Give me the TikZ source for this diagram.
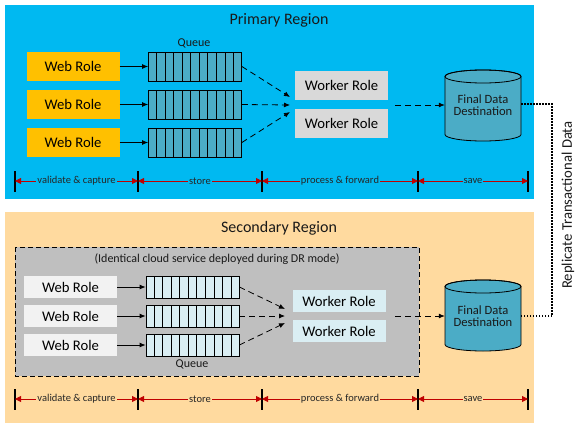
\documentclass[tikz,border=0pt]{standalone}
\usepackage{fontspec}
\setmainfont{Carlito}
\usetikzlibrary{arrows.meta,calc}
\definecolor{primbg}{HTML}{00B9F1}
\definecolor{secbg}{HTML}{FFDA9F}
\definecolor{webyel}{HTML}{FFC000}
\definecolor{qblue}{HTML}{4BACC6}
\definecolor{qlight}{HTML}{DAEEF3}
\definecolor{wgray}{HTML}{D9D9D9}
\definecolor{wlight}{HTML}{F2F2F2}
\definecolor{drgray}{HTML}{BFBFBF}
\definecolor{tlred}{HTML}{C00000}
\tikzset{
  fs/.style={font=\fontsize{#1}{#1}\selectfont},
  rolebox/.style={minimum width=93pt, inner sep=0pt, fs=14.67, text=black},
  qbox/.style={draw=black, line width=0.8pt, minimum width=93pt, inner sep=0pt},
  solidarr/.style={line width=0.8pt, -{Latex[length=6pt,width=5pt]}},
  dasharr/.style={line width=0.8pt, dash pattern=on 6pt off 4pt, -{Latex[length=6pt,width=5pt]}},
  tick/.style={line width=1.5pt, black},
  tlarr/.style={tlred, line width=0.8pt, {Triangle[length=6pt,width=6pt]}-{Triangle[length=6pt,width=6pt]}},
  tllab/.style={fs=10.5, inner sep=1pt, text=black!85},
  cylshape/.style={draw=black, line width=0.8pt, fill=qblue},
}
\newcommand{\cells}[1]{%
  \foreach \k in {1,...,10} {
    \draw[line width=0.6pt] ($(#1.south west)!\k/11!(#1.south east)$) -- ($(#1.north west)!\k/11!(#1.north east)$);
  }%
}
\newcommand{\cylinderat}[3]{% name, center x, top y
  \filldraw[cylshape] (#2-38,#3+6.5) -- (#2-38,#3+64.5)
    arc[start angle=180,end angle=360,x radius=38pt,y radius=6.5pt]
    -- (#2+38,#3+6.5)
    arc[start angle=0,end angle=180,x radius=38pt,y radius=6.5pt] -- cycle;
  \draw[line width=0.8pt] (#2,#3+6.5) ellipse[x radius=38pt, y radius=6.5pt];
  \node[minimum width=76pt, minimum height=71pt, inner sep=0pt] (#1) at (#2,#3+35.5) {};
}
\begin{document}
\begin{tikzpicture}[x=1pt,y=-1pt]
\useasboundingbox (0,0) rectangle (577,431);
\fill[white] (0,0) rectangle (577,431);
% ---------------- Primary region ----------------
\fill[primbg] (5,5) rectangle (534,199);
\node[fs=16, text=black!90] (ptitle) at (279,20) {Primary Region};
\foreach \i/\y in {1/66.5,2/104.5,3/142.5} {
  \node[rolebox, fill=webyel, minimum height=29pt] (pw\i) at (73,\y) {Web Role};
  \node[qbox, fill=qblue, minimum height=29pt] (pq\i) at (195,\y) {};
  \cells{pq\i}
  \draw[solidarr] (pw\i) -- (pq\i);
}
\node[fs=12, text=black!90] (pqlab) at (194,43) {Queue};
\node[rolebox, fill=wgray, minimum height=29pt] (pk1) at (341.5,85.5) {Worker Role};
\node[rolebox, fill=wgray, minimum height=29pt] (pk2) at (341.5,123.5) {Worker Role};
\coordinate (pt1) at (290,97);
\coordinate (pt2) at (290,105);
\coordinate (pt3) at (290,112);
\draw[dasharr] (pq1.east) -- (pt1);
\draw[dasharr] (pq2.east) -- (pt2);
\draw[dasharr] (pq3.east) -- (pt3);
\cylinderat{pcyl}{483}{70}
\node[fs=12.6, align=center, text=black!90] (pcyltext) at (483,105) {Final Data\\Destination};
\coordinate (pk) at (395,105);
\draw[dasharr] (pk) -- (pcyl.west |- pk);
% timeline
\foreach \n/\x in {a/15,b/138,c/262,d/418,e/528} {
  \coordinate (p\n1) at (\x,171);
  \coordinate (p\n2) at (\x,192);
  \coordinate (p\n) at (\x,181);
  \draw[tick] (p\n1) -- (p\n2);
}
\draw[tlarr] (pa) -- (pb);
\draw[tlarr] (pb) -- (pc);
\draw[tlarr] (pc) -- (pd);
\draw[tlarr] (pd) -- (pe);
\node[tllab, fill=primbg] (pl1) at ($(pa)!0.5!(pb)$) {validate \& capture};
\node[tllab, fill=primbg] (pl2) at ($(pb)!0.5!(pc)$) {store};
\node[tllab, fill=primbg] (pl3) at ($(pc)!0.5!(pd)$) {process \& forward};
\node[tllab, fill=primbg] (pl4) at ($(pd)!0.5!(pe)$) {save};
% ---------------- Secondary region ----------------
\fill[secbg] (5,212) rectangle (534,423);
\node[fs=16, text=black!90] (stitle) at (279,228) {Secondary Region};
\draw[fill=drgray, line width=0.8pt, dash pattern=on 5pt off 3pt] (15,247) rectangle (419,376);
\node[fs=12, text=black!90] (drtext) at (217,259) {(Identical cloud service deployed during DR mode)};
\foreach \i/\y in {1/287,2/316,3/345} {
  \node[rolebox, fill=wlight, minimum height=22pt] (sw\i) at (70.5,\y) {Web Role};
  \node[qbox, fill=qlight, minimum height=22pt] (sq\i) at (192.5,\y) {};
  \cells{sq\i}
  \draw[solidarr] (sw\i) -- (sq\i);
}
\node[fs=12, text=black!90] (sqlab) at (192,364) {Queue};
\node[rolebox, fill=qlight, minimum height=22pt] (sk1) at (339,301) {Worker Role};
\node[rolebox, fill=qlight, minimum height=22pt] (sk2) at (339,331) {Worker Role};
\coordinate (st1) at (285,309);
\coordinate (st2) at (285,316);
\coordinate (st3) at (285,323);
\draw[dasharr] (sq1.east) -- (st1);
\draw[dasharr] (sq2.east) -- (st2);
\draw[dasharr] (sq3.east) -- (st3);
\cylinderat{scyl}{483}{280}
\node[fs=12.6, align=center, text=black!90] (scyltext) at (483,316) {Final Data\\Destination};
\coordinate (sk) at (395,316);
\draw[dasharr] (sk) -- (scyl.west |- sk);
\foreach \n/\x in {a/15,b/138,c/262,d/418,e/528} {
  \coordinate (s\n1) at (\x,389);
  \coordinate (s\n2) at (\x,410);
  \coordinate (s\n) at (\x,399);
  \draw[tick] (s\n1) -- (s\n2);
}
\draw[tlarr] (sa) -- (sb);
\draw[tlarr] (sb) -- (sc);
\draw[tlarr] (sc) -- (sd);
\draw[tlarr] (sd) -- (se);
\node[tllab, fill=secbg] (sl1) at ($(sa)!0.5!(sb)$) {validate \& capture};
\node[tllab, fill=secbg] (sl2) at ($(sb)!0.5!(sc)$) {store};
\node[tllab, fill=secbg] (sl3) at ($(sc)!0.5!(sd)$) {process \& forward};
\node[tllab, fill=secbg] (sl4) at ($(sd)!0.5!(se)$) {save};
% ---------------- Replication ----------------
\coordinate (rp) at (521,104);
\coordinate (rs) at (521,316);
\draw[line width=1.2pt, dash pattern=on 1.5pt off 1.5pt] (rp) -- (552,104) -- (552,316) -- (rs);
\node[fs=14.67, rotate=90, text=black!90] (replab) at (568,205) {Replicate Transactional Data};
\end{tikzpicture}
\end{document}
